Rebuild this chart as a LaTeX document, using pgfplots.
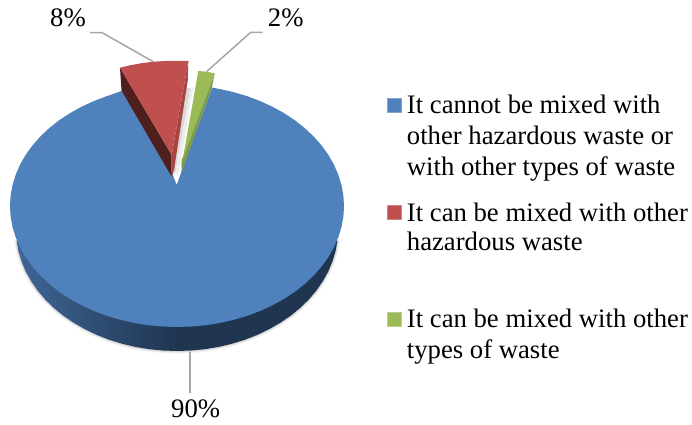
\documentclass[border=0pt]{standalone}
\usepackage{fontspec}
\setmainfont{Liberation Serif}
\usepackage{pgfplots}
\pgfplotsset{compat=1.18}
\definecolor{pblue}{HTML}{4F81BD}
\definecolor{pred}{HTML}{C0504D}
\definecolor{pgreen}{HTML}{9BBB59}
\definecolor{wallblue}{HTML}{1F3550}
\definecolor{wallleft}{HTML}{3F6696}
\definecolor{wallred}{HTML}{4F1F1D}
\definecolor{stripred}{HTML}{A84442}
\definecolor{stripgreen}{HTML}{7E9B48}
\definecolor{leader}{HTML}{A6A6A6}
\begin{document}
\begin{tikzpicture}
\path[use as bounding box] (0,0) rectangle (692pt,424pt);
\begin{axis}[
	scale only axis,
	width=692pt, height=424pt,
	xmin=0, xmax=692, ymin=0, ymax=424,
	y dir=reverse,
	hide axis,
	clip=false,
	nodes={font=\fontsize{26.7}{30}\selectfont, inner sep=0pt, anchor=base west},
	]
	% soft shadow under the rim
	\addplot[draw=black!6, line width=5pt] coordinates {(16.6,240.5) (18.4,251) (21.5,261.3) (25.7,271.4) (31.1,281.1) (37.6,290.5) (45.1,299.4) (53.7,307.8) (63.2,315.6) (73.6,322.7) (84.7,329.1) (96.5,334.8) (109,339.7) (121.9,343.7) (135.3,346.9) (149,349.2) (163,350.5) (177,351) (191,350.5) (205,349.2) (218.7,346.9) (232.1,343.7) (245,339.7) (257.5,334.8) (269.3,329.1) (280.4,322.7) (290.8,315.6) (300.3,307.8) (308.9,299.4) (316.4,290.5) (322.9,281.1) (328.3,271.4) (332.5,261.3) (335.6,251) (337.4,240.5)};
	\addplot[draw=black!15, line width=2.5pt] coordinates {(16.6,240.5) (18.4,251) (21.5,261.3) (25.7,271.4) (31.1,281.1) (37.6,290.5) (45.1,299.4) (53.7,307.8) (63.2,315.6) (73.6,322.7) (84.7,329.1) (96.5,334.8) (109,339.7) (121.9,343.7) (135.3,346.9) (149,349.2) (163,350.5) (177,351) (191,350.5) (205,349.2) (218.7,346.9) (232.1,343.7) (245,339.7) (257.5,334.8) (269.3,329.1) (280.4,322.7) (290.8,315.6) (300.3,307.8) (308.9,299.4) (316.4,290.5) (322.9,281.1) (328.3,271.4) (332.5,261.3) (335.6,251) (337.4,240.5)};
	% rim of the blue slice
	\addplot[draw=none, left color=wallleft, right color=wallblue] coordinates {(177,351) (163,350.5) (149,349.2) (135.3,346.9) (121.9,343.7) (109,339.7) (96.5,334.8) (84.7,329.1) (73.6,322.7) (63.2,315.6) (53.7,307.8) (45.1,299.4) (37.6,290.5) (31.1,281.1) (25.7,271.4) (21.5,261.3) (18.4,251) (16.6,240.5) (177,240)} -- cycle;
	\addplot[draw=none, fill=wallblue] coordinates {(176.5,351) (191,350.5) (205,349.2) (218.7,346.9) (232.1,343.7) (245,339.7) (257.5,334.8) (269.3,329.1) (280.4,322.7) (290.8,315.6) (300.3,307.8) (308.9,299.4) (316.4,290.5) (322.9,281.1) (328.3,271.4) (332.5,261.3) (335.6,251) (337.4,240.5) (176.5,240)} -- cycle;
	% blue top
	\addplot[draw=none, fill=pblue] coordinates {(212,87.5) (220.2,89.1) (234.1,92.3) (247.6,96.3) (260.5,101.2) (272.8,106.9) (284.3,113.3) (295.1,120.4) (304.9,128.2) (313.8,136.6) (321.6,145.5) (328.4,154.9) (333.9,164.6) (338.3,174.7) (341.5,185) (343.4,195.5) (344,206) (343.4,216.5) (341.5,227) (338.3,237.3) (333.9,247.4) (328.4,257.1) (321.6,266.5) (313.8,275.4) (304.9,283.8) (295.1,291.6) (284.3,298.7) (272.8,305.1) (260.5,310.8) (247.6,315.7) (234.1,319.7) (220.2,322.9) (206,325.2) (191.6,326.5) (177,327) (162.4,326.5) (148,325.2) (133.8,322.9) (119.9,319.7) (106.4,315.7) (93.5,310.8) (81.2,305.1) (69.7,298.7) (58.9,291.6) (49.1,283.8) (40.2,275.4) (32.4,266.5) (25.6,257.1) (20.1,247.4) (15.7,237.3) (12.5,227) (10.6,216.5) (10,206) (10.6,195.5) (12.5,185) (15.7,174.7) (20.1,164.6) (25.6,154.9) (32.4,145.5) (40.2,136.6) (49.1,128.2) (58.9,120.4) (69.7,113.3) (81.2,106.9) (93.5,101.2) (106.4,96.3) (119.9,91.6) (124,90.2) (171.7,172) (176.7,185) (181.7,171)} -- cycle;
	% inner face seen through the gap
	\addplot[draw=none, fill=black!15] coordinates {(186.5,88) (190.5,88) (175.5,172) (172.8,176)} -- cycle;
	\addplot[draw=none, fill=black!7] coordinates {(190.5,88) (193.3,87.3) (178,177) (175.5,172)} -- cycle;
	% red slice
	\addplot[draw=none, fill=wallred] coordinates {(120,67.7) (121.5,90.5) (171.7,176.7) (171.7,155)} -- cycle;
	\addplot[draw=none, fill=stripred] coordinates {(188.3,61) (187.8,80) (174,170) (171.7,176.7) (171.7,155)} -- cycle;
	\addplot[draw=none, fill=pred] coordinates {(120,67.7) (130,65.3) (141,63.3) (153,61.7) (165,61) (177,60.8) (188.3,61) (171.7,155)} -- cycle;
	% green slice
	\addplot[draw=none, fill=stripgreen] coordinates {(214.7,73.3) (212,87) (181.7,172) (181.7,160)} -- cycle;
	\addplot[draw=none, fill=pgreen] coordinates {(198.3,71) (206,71.6) (214.7,73.3) (181.7,162) (181.2,168)} -- cycle;
	% leader lines
	\addplot[draw=leader, line width=1.5pt] coordinates {(90,32.5) (101.7,32.5) (153.3,61.7)};
	\addplot[draw=leader, line width=1.5pt] coordinates {(262.7,32.3) (250.7,32.3) (206.7,71.5)};
	\addplot[draw=leader, line width=1.5pt] coordinates {(190,351.7) (190,392.7)};
	% legend swatches
	\addplot[draw=pblue!70, fill=pblue] coordinates {(387,98.3) (400.7,98.3) (400.7,111.7) (387,111.7)} -- cycle;
	\addplot[draw=pred!70, fill=pred] coordinates {(387,205) (400.7,205) (400.7,219) (387,219)} -- cycle;
	\addplot[draw=pgreen!70, fill=pgreen] coordinates {(387,312.5) (400.7,312.5) (400.7,326.3) (387,326.3)} -- cycle;
	% labels
	\node at (axis cs:50,26.7) {8\%};
	\node at (axis cs:267.7,26.7) {2\%};
	\node at (axis cs:171,417.3) {90\%};
	\node at (axis cs:406.7,113.3) {It cannot be mixed with};
	\node at (axis cs:406.7,144.3) {other hazardous waste or};
	\node at (axis cs:406.7,175) {with other types of waste};
	\node at (axis cs:406.7,221) {It can be mixed with other};
	\node at (axis cs:406.7,250.7) {hazardous waste};
	\node at (axis cs:406.7,327.7) {It can be mixed with other};
	\node at (axis cs:406.7,358.3) {types of waste};
\end{axis}
\end{tikzpicture}
\end{document}
